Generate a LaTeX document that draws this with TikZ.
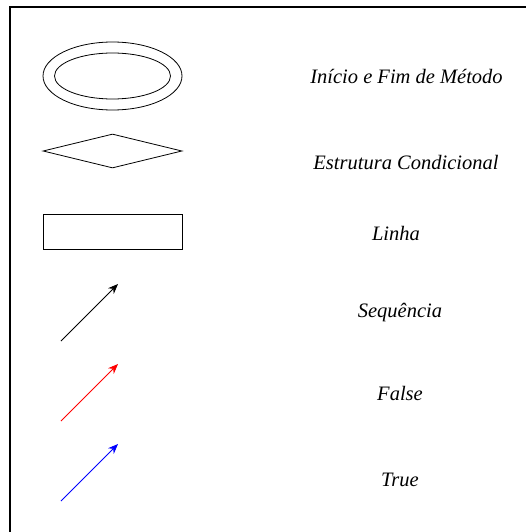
\documentclass[tikz,border=0pt]{standalone}
\usepackage{fontspec}
\setmainfont{Liberation Serif}
\usepackage{tikz}
\usetikzlibrary{arrows.meta,positioning,shapes.geometric}

\begin{document}
\begin{tikzpicture}[
  x=1pt, y=-1pt,
  symbolbox/.style={draw, line width=0.8pt, inner sep=0pt},
  legend/.style={font=\fontsize{20.5}{24}\selectfont\itshape, inner sep=0pt},
  flow/.style={line width=0.8pt, -{Stealth[length=10pt,width=8pt]}}
]
\useasboundingbox (0,0) rectangle (526,532);
% frame
\draw[line width=1.2pt] (10,532) -- (10,7) -- (526,7);

% Start and end
\node[symbolbox, ellipse, minimum width=139pt, minimum height=68pt] (outer) at (112.5,76) {};
\node[symbolbox, ellipse, minimum width=116pt, minimum height=46pt] (inner) at (112.5,76) {};
\node[legend] (lblstart) at (406.5,76) {Início e Fim de Método};

% Condition
\node[symbolbox, diamond, minimum width=139pt, minimum height=34pt, aspect=4] (cond) at (112.5,151) {};
\node[legend] (lblcond) at (406,163) {Estrutura Condicional};

% Line
\node[symbolbox, rectangle, minimum width=139pt, minimum height=35pt] (line) at (112.5,231.5) {};
\node[legend] (lblline) at (396,233) {Linha};

% Arrows
\coordinate (seqA) at (61,341);  \coordinate (seqB) at (118,284);
\coordinate (falA) at (61,421);  \coordinate (falB) at (118,364);
\coordinate (truA) at (61,501);  \coordinate (truB) at (118,444);
\draw[flow, black] (seqA) -- (seqB);
\draw[flow, red] (falA) -- (falB);
\draw[flow, blue] (truA) -- (truB);
\node[legend] (lblseq) at (400,313) {Sequência};
\node[legend] (lblfalse) at (400,393) {False};
\node[legend] (lbltrue) at (400,480) {True};

\end{tikzpicture}
\end{document}
